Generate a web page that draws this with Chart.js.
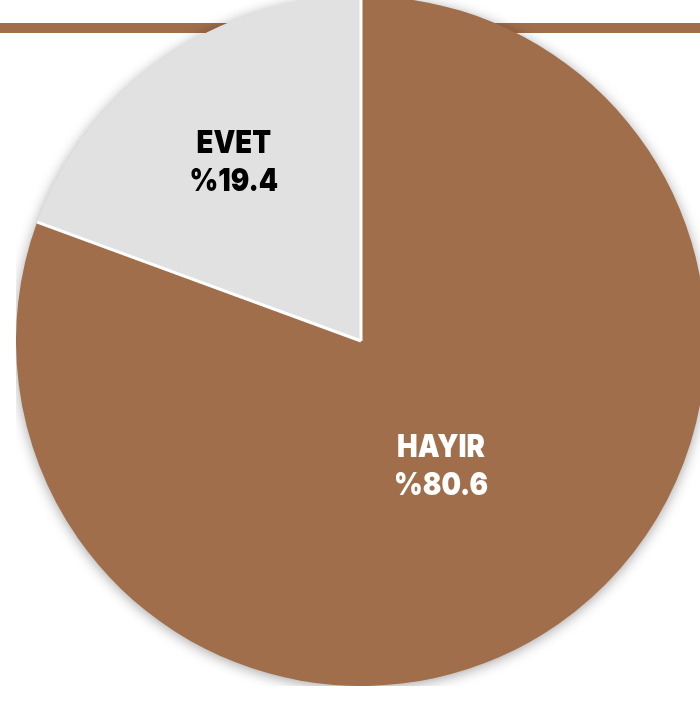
<!DOCTYPE html>
<html>
<head>
<meta charset="utf-8">
<script src="https://cdn.jsdelivr.net/npm/chart.js@4"></script>
<style>
	html, body { margin: 0; padding: 0; background: #fff; overflow: hidden; width: 700px; height: 701px; }
	#bar { position: absolute; left: 0; top: 23px; width: 700px; height: 10px; background: #a06e4b; }
	#wrap { position: absolute; left: 16px; top: -4px; width: 690px; height: 690px; }
</style>
</head>
<body>
<div id="bar"></div>
<div id="wrap"><canvas id="pieChart"></canvas></div>
<script>
var labels = ['HAYIR', 'EVET'];
var values = [80.6, 19.4];
var sliceColors = ['#a06e4b', '#e1e1e1'];
var textColors = ['#ffffff', '#000000'];

// shadow under the pie, white separators, and the two labels
var sliceLabels = {
	id: 'sliceLabels',
	beforeDatasetsDraw: function(chart) {
		var arc = chart.getDatasetMeta(0).data[0];
		if (!arc) return;
		var ctx = chart.ctx;
		ctx.save();
		ctx.shadowColor = 'rgba(0,0,0,0.4)';
		ctx.shadowBlur = 14;
		ctx.shadowOffsetY = 2;
		ctx.fillStyle = '#a06e4b';
		ctx.beginPath();
		ctx.arc(arc.x, arc.y, arc.outerRadius - 1, 0, Math.PI * 2);
		ctx.fill();
		ctx.restore();
	},
	afterDatasetsDraw: function(chart, args, opts) {
		var ctx = chart.ctx;
		var meta = chart.getDatasetMeta(0);
		ctx.save();
		ctx.strokeStyle = '#ffffff';
		ctx.lineWidth = 3;
		meta.data.forEach(function(arc) {
			ctx.beginPath();
			ctx.moveTo(arc.x, arc.y);
			ctx.lineTo(arc.x + Math.cos(arc.startAngle) * arc.outerRadius, arc.y + Math.sin(arc.startAngle) * arc.outerRadius);
			ctx.stroke();
		});
		ctx.font = '900 32px Inter, Lato, "DejaVu Sans", sans-serif';
		ctx.textAlign = 'center';
		ctx.textBaseline = 'middle';
		meta.data.forEach(function(arc, i) {
			var mid = (arc.startAngle + arc.endAngle) / 2 + opts.turn[i];
			var r = arc.outerRadius * opts.radius[i];
			var x = arc.x + Math.cos(mid) * r;
			var y = arc.y + Math.sin(mid) * r;
			ctx.save();
			ctx.translate(x, y);
			ctx.scale(0.86, 1);
			ctx.fillStyle = textColors[i];
			ctx.fillText(labels[i], 0, -19);
			ctx.fillText('%' + values[i], 0, 19);
			ctx.restore();
		});
		ctx.restore();
	}
};

function buildPie() {
	var ctx = document.getElementById('pieChart');
	var chart = new Chart(ctx, {
		type: 'pie',
		data: {
			labels: labels,
			datasets: [{
				data: values,
				backgroundColor: sliceColors,
				borderWidth: 0
			}]
		},
		options: {
			responsive: true,
			maintainAspectRatio: false,
			animation: false,
			layout: { padding: 0 },
			plugins: {
				legend: { display: false },
				tooltip: { enabled: false },
				sliceLabels: { radius: [0.43, 0.635], turn: [0.04, -0.01] }
			}
		},
		plugins: [sliceLabels]
	});
	return chart;
}

window.pieChart = buildPie();
</script>
</body>
</html>
